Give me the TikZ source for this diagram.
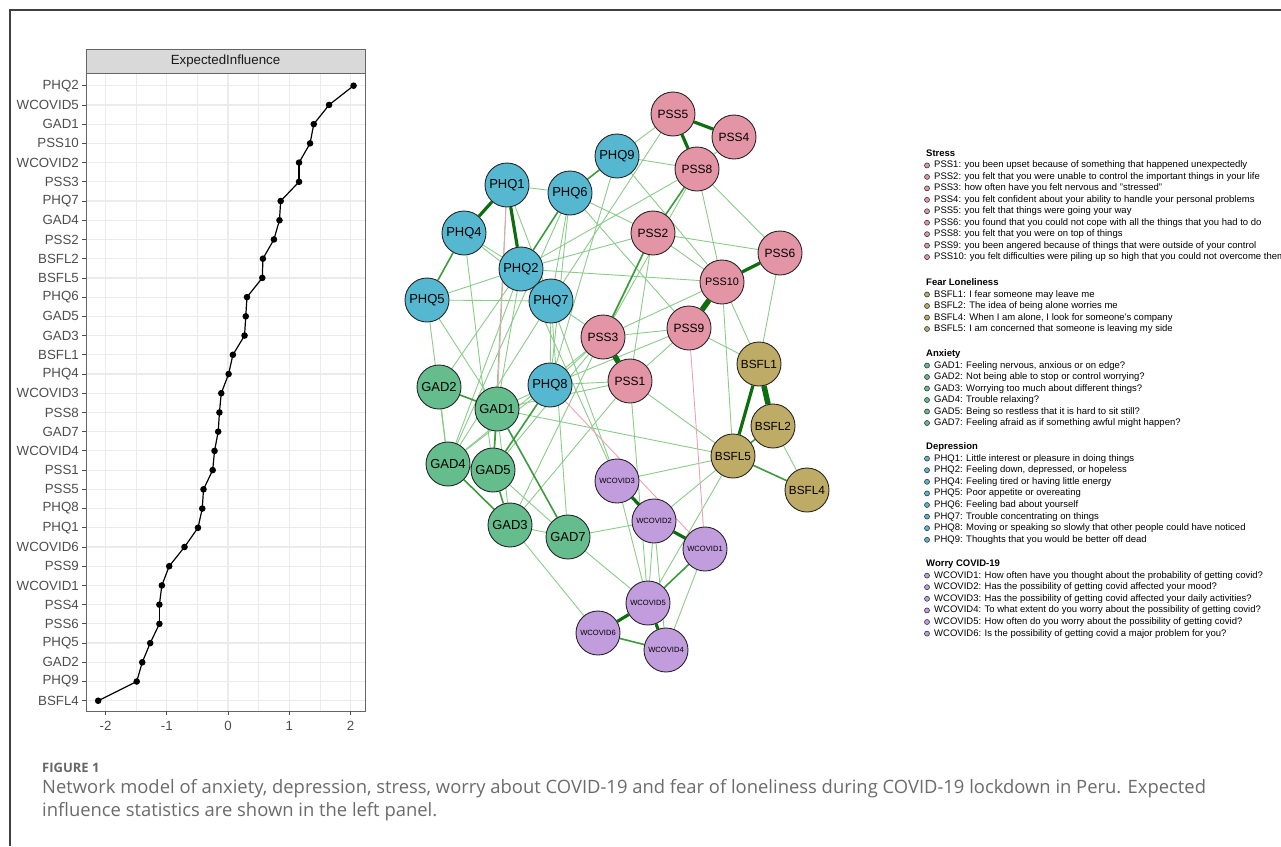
\documentclass[tikz,border=0pt]{standalone}
\usepackage{fontspec}
\setmainfont{Liberation Sans}
\newfontfamily\capfont{Open Sans}
\usetikzlibrary{positioning}

\definecolor{pssc}{HTML}{E495A5}
\definecolor{bsflc}{HTML}{BDAB66}
\definecolor{gadc}{HTML}{65BC8C}
\definecolor{phqc}{HTML}{55B8D0}
\definecolor{wcovc}{HTML}{C29DDE}
\definecolor{gridc}{HTML}{EBEBEB}
\definecolor{axtext}{HTML}{4D4D4D}
\definecolor{weakc}{HTML}{8ACB8A}
\definecolor{midc}{HTML}{3C9C3C}
\definecolor{strongc}{HTML}{0D6E0D}
\definecolor{negc}{HTML}{EBA3B3}

\pgfdeclarelayer{edges}
\pgfsetlayers{edges,main}

\tikzset{
  item/.style = {circle, draw=black!85, line width=0.9pt, minimum size=44pt, inner sep=0pt,
                 font=\fontsize{13}{13}\selectfont},
  phq/.style = {item, fill=phqc},
  gad/.style = {item, fill=gadc},
  pss/.style = {item, fill=pssc, font=\fontsize{12}{12}\selectfont},
  bsfl/.style = {item, fill=bsflc, font=\fontsize{11.8}{11.8}\selectfont},
  wcov/.style = {item, fill=wcovc, font=\fontsize{7.6}{7.6}\selectfont},
  wk/.style = {draw=weakc, line width=0.9pt},
  md/.style = {draw=midc, line width=1.6pt},
  st/.style = {draw=strongc, line width=3.2pt},
  vs/.style = {draw=strongc, line width=5.5pt},
  ng/.style = {draw=negc, line width=0.9pt},
  ylab/.style = {anchor=east, inner sep=0pt, text=axtext, font=\fontsize{13.3}{13.3}\selectfont},
  legtxt/.style = {anchor=west, inner sep=0pt, text height=7pt, text depth=2pt,
                   font=\fontsize{9.5}{9.5}\selectfont},
  leghd/.style = {legtxt, font=\fontsize{9.5}{9.5}\selectfont\bfseries},
  legdot/.style = {draw=black!80, line width=0.6pt},
}

\begin{document}
\begin{tikzpicture}[x=1pt, y=-1pt]
\useasboundingbox (0,0) rectangle (1281,846);
\clip (0,0) rectangle (1281,846);

% frame
\draw[black!75, line width=1.3pt] (1281,10) -- (10,10) -- (10,846);

% expected influence panel
\foreach \v in {-1.5,-0.5,0.5,1.5}
  \draw[gridc, line width=0.6pt] (228+61.25*\v,73) -- (228+61.25*\v,711);
\foreach \v in {-2,...,2}
  \draw[gridc, line width=1.2pt] (228+61.25*\v,73) -- (228+61.25*\v,711);
\foreach \i in {1,...,33}
  \draw[gridc, line width=1.2pt] (86,85.7+19.22*\i-19.22) -- (365,85.7+19.22*\i-19.22);

\foreach \lab/\val [count=\i] in {PHQ2/2.05, WCOVID5/1.65, GAD1/1.40, PSS10/1.34,
    WCOVID2/1.16, PSS3/1.16, PHQ7/0.86, GAD4/0.84, PSS2/0.75, BSFL2/0.57, BSFL5/0.56,
    PHQ6/0.31, GAD5/0.29, GAD3/0.27, BSFL1/0.08, PHQ4/0.01, WCOVID3/-0.11, PSS8/-0.14,
    GAD7/-0.16, WCOVID4/-0.22, PSS1/-0.25, PSS5/-0.40, PHQ8/-0.42, PHQ1/-0.49,
    WCOVID6/-0.71, PSS9/-0.96, WCOVID1/-1.08, PSS4/-1.12, PSS6/-1.12, PHQ5/-1.27,
    GAD2/-1.40, PHQ9/-1.49, BSFL4/-2.12} {
  \pgfmathsetmacro\yy{85.7+19.22*(\i-1)}
  \coordinate (ei\i) at (228+61.25*\val,\yy);
  \node[ylab] (eilab\i) at (79,\yy) {\lab};
  \draw[axtext, line width=0.8pt] (82,\yy) -- (86,\yy);
}
\foreach \i [evaluate=\i as \j using int(\i+1)] in {1,...,32}
  \draw[black, line width=1.2pt] (ei\i) -- (ei\j);
\foreach \i in {1,...,33}
  \fill (ei\i) circle (3.3);

\draw[black!60, line width=0.9pt] (86,73) rectangle (365,711);
\draw[black!60, line width=0.9pt, fill=black!15] (86,49) rectangle (365,73);
\node[font=\fontsize{13.3}{13.3}\selectfont, text=black!90] (strip) at (225.5,61) {ExpectedInfluence};
\foreach \v in {-2,...,2} {
  \draw[axtext, line width=0.8pt] (228+61.25*\v,711) -- (228+61.25*\v,715);
  \node[text=axtext, font=\fontsize{13.3}{13.3}\selectfont, inner sep=0pt] (xt\v) at (228+61.25*\v,726) {\v};
}

% network nodes
\node[pss] (pss5) at (673,114) {PSS5};
\node[pss] (pss4) at (734,137) {PSS4};
\node[phq] (phq9) at (617,156) {PHQ9};
\node[pss] (pss8) at (697,169) {PSS8};
\node[phq] (phq1) at (507,185) {PHQ1};
\node[phq] (phq6) at (570,193) {PHQ6};
\node[phq] (phq4) at (464,233) {PHQ4};
\node[pss] (pss2) at (653,233) {PSS2};
\node[pss] (pss6) at (780,253) {PSS6};
\node[phq] (phq2) at (521,269) {PHQ2};
\node[pss, font=\fontsize{10.8}{10.8}\selectfont] (pss10) at (722,282) {PSS10};
\node[phq] (phq5) at (427,300) {PHQ5};
\node[phq] (phq7) at (551,301) {PHQ7};
\node[pss] (pss3) at (603,337) {PSS3};
\node[pss] (pss9) at (689,328) {PSS9};
\node[bsfl] (bsfl1) at (759,364) {BSFL1};
\node[pss] (pss1) at (630,381) {PSS1};
\node[gad] (gad2) at (439,387) {GAD2};
\node[phq] (phq8) at (550,385) {PHQ8};
\node[gad] (gad1) at (497,409) {GAD1};
\node[bsfl] (bsfl2) at (773,426) {BSFL2};
\node[bsfl] (bsfl5) at (733,456) {BSFL5};
\node[gad] (gad4) at (448,464) {GAD4};
\node[gad] (gad5) at (493,470) {GAD5};
\node[bsfl] (bsfl4) at (807,490) {BSFL4};
\node[wcov] (wc3) at (617,481) {WCOVID3};
\node[wcov] (wc2) at (654,521) {WCOVID2};
\node[gad] (gad3) at (510,525) {GAD3};
\node[gad] (gad7) at (568,537) {GAD7};
\node[wcov] (wc1) at (705,549) {WCOVID1};
\node[wcov] (wc5) at (648,603) {WCOVID5};
\node[wcov] (wc6) at (598,633) {WCOVID6};
\node[wcov] (wc4) at (666,650) {WCOVID4};

% network edges
\begin{pgfonlayer}{edges}
\foreach \a/\b in {pss5/phq9, pss5/phq7, pss8/phq9, pss8/pss6, pss8/pss10, pss8/phq2,
    pss8/pss3, pss4/pss8, phq9/pss10, phq9/phq8, phq1/phq6, phq1/phq7, phq1/gad5,
    phq6/pss2, phq6/pss9, phq6/phq7, phq6/phq8, phq6/gad4, pss2/pss6, pss2/pss10,
    pss2/pss1, pss2/phq2, pss2/gad3, pss6/bsfl1, pss10/bsfl1, pss10/phq2, pss10/pss3,
    pss10/bsfl5, pss9/pss3, pss9/bsfl1, pss9/pss1, pss9/phq8, phq4/phq2, phq4/phq7,
    phq4/gad5, phq5/phq7, phq5/phq2, phq5/gad4, phq5/gad1, phq2/gad1, phq2/gad4,
    phq2/gad2, phq2/phq7, phq7/pss3, phq7/phq8, phq7/wc3, phq7/gad7, phq7/gad4,
    phq8/pss1, phq8/gad1, phq8/pss3, phq8/gad4, gad2/gad4, gad1/bsfl5, gad1/pss1,
    gad1/gad3, gad4/pss3, gad5/gad7, gad3/gad7, gad3/wc6, gad7/wc2, gad7/wc5,
    gad3/pss1, gad5/pss3, wc3/wc5, wc2/wc5, wc2/wc4, wc1/wc4, wc2/bsfl5, wc3/bsfl5,
    bsfl5/wc5, pss1/wc5, pss1/bsfl5, bsfl2/bsfl4, phq2/wc3}
  \draw[wk] (\a) -- (\b);
\foreach \a/\b in {phq1/gad1, pss9/wc1, phq8/wc1}
  \draw[ng] (\a) -- (\b);
\foreach \a/\b in {phq9/phq6, gad2/gad1, gad1/gad5, phq8/gad5, gad4/gad3, gad5/gad3,
    bsfl5/bsfl4, bsfl2/bsfl5, wc1/wc5, wc6/wc4, phq6/phq2, phq4/phq5, pss8/pss2,
    gad4/gad5, pss2/pss3, gad1/gad7}
  \draw[md] (\a) -- (\b);
\foreach \a/\b in {pss5/pss4, phq1/phq4, phq1/phq2, bsfl1/bsfl5, wc3/wc2, wc2/wc1,
    wc5/wc6, wc5/wc4, pss10/pss6, pss5/pss8}
  \draw[st] (\a) -- (\b);
\foreach \a/\b in {pss10/pss9, bsfl1/bsfl2, pss3/pss1}
  \draw[vs] (\a) -- (\b);
\end{pgfonlayer}

% legend
\node[leghd] (stresshd) at (926,154) {Stress};
\foreach \txt [count=\k] in {{PSS1: you been upset because of something that happened unexpectedly},
    {PSS2: you felt that you were unable to control the important things in your life},
    {PSS3: how often have you felt nervous and "stressed"},
    {PSS4: you felt confident about your ability to handle your personal problems},
    {PSS5: you felt that things were going your way},
    {PSS6: you found that you could not cope with all the things that you had to do},
    {PSS8: you felt that you were on top of things},
    {PSS9: you been angered because of things that were outside of your control},
    {PSS10: you felt difficulties were piling up so high that you could not overcome them}} {
  \node[legtxt] (pssleg\k) at (934,154+11.45*\k) {\txt};
  \draw[legdot, fill=pssc] (927,154+11.45*\k) circle (2.5);
}
\node[leghd] (fearhd) at (926,283) {Fear Loneliness};
\foreach \txt [count=\k] in {{BSFL1: I fear someone may leave me},
    {BSFL2: The idea of being alone worries me},
    {BSFL4: When I am alone, I look for someone's company},
    {BSFL5: I am concerned that someone is leaving my side}} {
  \node[legtxt] (bsflleg\k) at (934,283+11.5*\k) {\txt};
  \draw[legdot, fill=bsflc] (927,283+11.5*\k) circle (2.5);
}
\node[leghd] (anxhd) at (926,354) {Anxiety};
\foreach \txt [count=\k] in {{GAD1: Feeling nervous, anxious or on edge?},
    {GAD2: Not being able to stop or control worrying?},
    {GAD3: Worrying too much about different things?},
    {GAD4: Trouble relaxing?},
    {GAD5: Being so restless that it is hard to sit still?},
    {GAD7: Feeling afraid as if something awful might happen?}} {
  \node[legtxt] (gadleg\k) at (934,354+11.5*\k) {\txt};
  \draw[legdot, fill=gadc] (927,354+11.5*\k) circle (2.5);
}
\node[leghd] (dephd) at (926,447) {Depression};
\foreach \txt [count=\k] in {{PHQ1: Little interest or pleasure in doing things},
    {PHQ2: Feeling down, depressed, or hopeless},
    {PHQ4: Feeling tired or having little energy},
    {PHQ5: Poor appetite or overeating},
    {PHQ6: Feeling bad about yourself},
    {PHQ7: Trouble concentrating on things},
    {PHQ8: Moving or speaking so slowly that other people could have noticed},
    {PHQ9: Thoughts that you would be better off dead}} {
  \node[legtxt] (phqleg\k) at (934,447+11.6*\k) {\txt};
  \draw[legdot, fill=phqc] (927,447+11.6*\k) circle (2.5);
}
\node[leghd] (worryhd) at (926,564) {Worry COVID-19};
\foreach \txt [count=\k] in {{WCOVID1: How often have you thought about the probability of getting covid?},
    {WCOVID2: Has the possibility of getting covid affected your mood?},
    {WCOVID3: Has the possibility of getting covid affected your daily activities?},
    {WCOVID4: To what extent do you worry about the possibility of getting covid?},
    {WCOVID5: How often do you worry about the possibility of getting covid?},
    {WCOVID6: Is the possibility of getting covid a major problem for you?}} {
  \node[legtxt] (wcleg\k) at (934,564+11.6*\k) {\txt};
  \draw[legdot, fill=wcovc] (927,564+11.6*\k) circle (2.5);
}

% caption
\node[anchor=west, inner sep=0pt, text=black!60, font=\capfont\bfseries\fontsize{13}{13}\selectfont] (figlab) at (42,768) {FIGURE 1};
\node[anchor=north west, inner sep=0pt, align=left, text=black!58,
      font=\capfont\fontsize{18.4}{23}\selectfont] (caption) at (42,779)
  {Network model of anxiety, depression, stress, worry about COVID-19 and fear of loneliness during COVID-19 lockdown in Peru. Expected\\
   influence statistics are shown in the left panel.};
\end{tikzpicture}
\end{document}
